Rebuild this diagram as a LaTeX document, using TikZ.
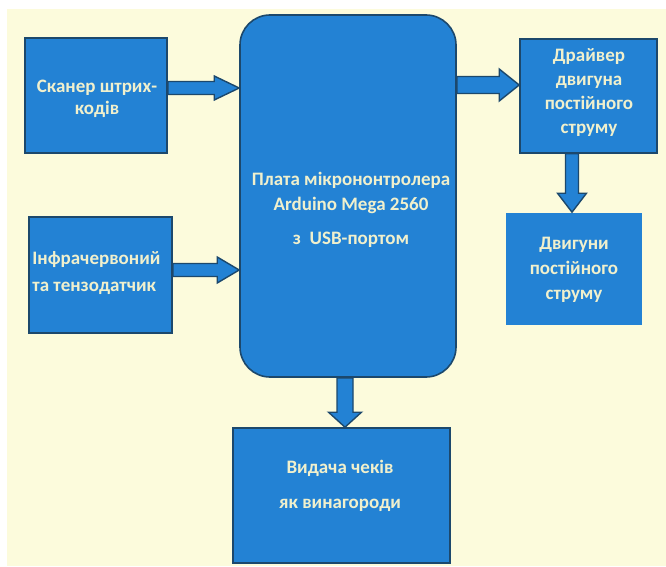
\documentclass[tikz,border=0pt]{standalone}
\usepackage{fontspec}
\setmainfont{Carlito}
\usetikzlibrary{calc}
\definecolor{bg}{RGB}{252,251,220}
\definecolor{boxblue}{RGB}{35,130,212}
\definecolor{edge}{RGB}{28,72,108}
\definecolor{txtc}{RGB}{240,240,205}
\begin{document}
\begin{tikzpicture}[x=1pt,y=1pt,
  blk/.style={draw=edge, line width=1.6pt, fill=boxblue, inner sep=0pt},
  arr/.style={draw=edge, line width=1.4pt, fill=boxblue, line join=miter},
  lbl/.style={text=txtc, font=\bfseries\fontsize{19}{#1}\selectfont, align=center, inner sep=0pt},
  lbl/.default=24]
\useasboundingbox (0,0) rectangle (666,566);
\fill[bg] (7,0) rectangle (666,557);

% boxes
\node[blk, minimum width=142pt, minimum height=115pt] (scan) at (96,470.5) {};
\node[blk, minimum width=143pt, minimum height=116pt] (ir) at (100.5,291) {};
\node[blk, rounded corners=30pt, minimum width=216pt, minimum height=362pt] (cpu) at (348,370) {};
\node[blk, minimum width=137pt, minimum height=114pt] (drv) at (588.5,470) {};
\node[blk, draw=none, minimum width=136pt, minimum height=112pt] (mot) at (574,297) {};
\node[blk, minimum width=217pt, minimum height=135pt] (out) at (341.5,70.5) {};

% block arrows
\draw[arr] let \p1=(scan.east), \p2=(cpu.west) in
  (\x1,484.5pt) -- (\x2-25pt,484.5pt) -- (\x2-25pt,490pt) -- (\x2,478pt)
  -- (\x2-25pt,466pt) -- (\x2-25pt,471.5pt) -- (\x1,471.5pt) -- cycle;
\draw[arr] let \p1=(ir.east), \p2=(cpu.west) in
  (\x1,302.5pt) -- (\x2-22pt,302.5pt) -- (\x2-22pt,309pt) -- (\x2,296pt)
  -- (\x2-22pt,283pt) -- (\x2-22pt,289.5pt) -- (\x1,289.5pt) -- cycle;
\draw[arr] let \p1=(cpu.east), \p2=(drv.west) in
  (\x1,489.5pt) -- (\x2-20pt,489.5pt) -- (\x2-20pt,497pt) -- (\x2,481pt)
  -- (\x2-20pt,465pt) -- (\x2-20pt,472.5pt) -- (\x1,472.5pt) -- cycle;
\draw[arr] let \p1=(drv.south), \p2=(mot.north) in
  (565.5pt,\y1) -- (565.5pt,\y2+19pt) -- (557.5pt,\y2+19pt) -- (572pt,\y2)
  -- (586.5pt,\y2+19pt) -- (578.5pt,\y2+19pt) -- (578.5pt,\y1) -- cycle;
\draw[arr] let \p1=(cpu.south), \p2=(out.north) in
  (337pt,\y1) -- (337pt,\y2+15pt) -- (328.5pt,\y2+15pt) -- (345pt,\y2)
  -- (361.5pt,\y2+15pt) -- (353pt,\y2+15pt) -- (353pt,\y1) -- cycle;

% texts
\node[lbl=22] at ($(scan.center)+(1,-3.5)$) {Сканер штрих-\\кодів};
\node[lbl=27, align=left, anchor=west] at ($(ir.west)+(4,1.5)$) {Інфрачервоний\\та тензодатчик};
\node[lbl=25] at ($(cpu.center)+(3,-13.5)$) {Плата мікрононтролера\\Arduino Mega 2560\\[9pt]з\ \ USB-портом};
\node[lbl=24] at ($(drv.center)+(0.5,3)$) {Драйвер\\двигуна\\постійного\\струму};
\node[lbl=25] at ($(mot.center)+(0,-1)$) {Двигуни\\постійного\\струму};
\node[lbl=35] at ($(out.center)+(-1.5,10)$) {Видача чеків\\як винагороди};
\end{tikzpicture}
\end{document}
